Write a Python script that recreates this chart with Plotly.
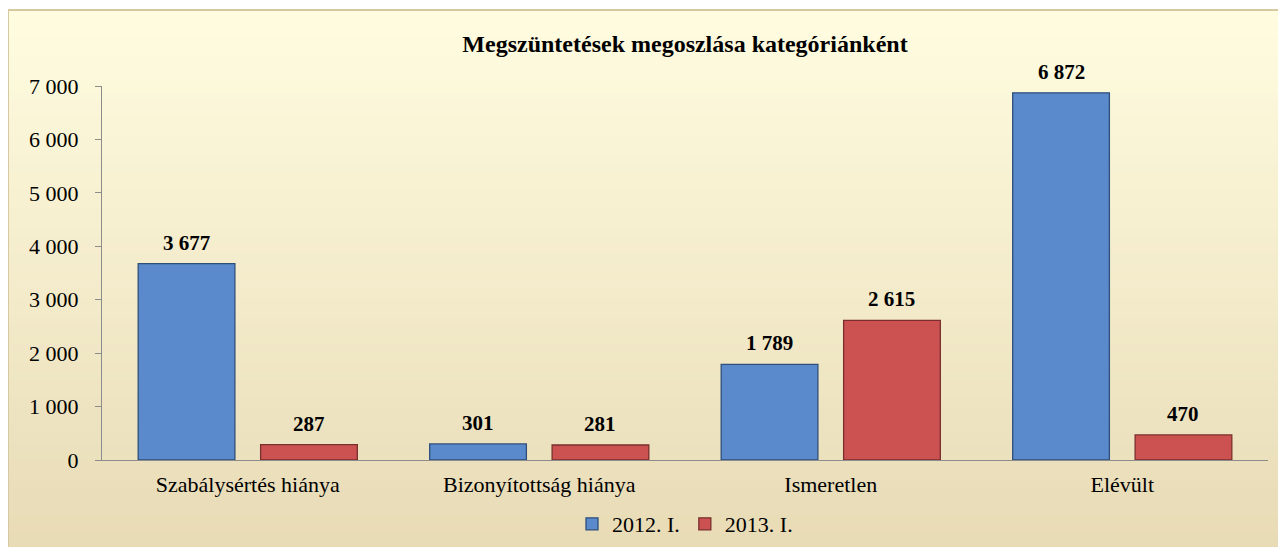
import plotly.graph_objects as go

categories = ["Szabálysértés hiánya", "Bizonyítottság hiánya", "Ismeretlen", "Elévült"]
series_names = ["2012. I.", "2013. I."]
values_2012 = [3677, 301, 1789, 6872]
values_2013 = [287, 281, 2615, 470]
y_tickvals = [0, 1000, 2000, 3000, 4000, 5000, 6000, 7000]
y_ticktext = ["0", "1 000", "2 000", "3 000", "4 000", "5 000", "6 000", "7 000"]
title_text = "Megszüntetések megoszlása kategóriánként"

# page body has an 8px margin; work in screen coords and convert
OFF = 8
W, H = 1286 - 2 * OFF, 555 - 2 * OFF
ML = 102 - OFF
MR = W - (1268 - OFF)
MT = 86 - OFF
MB = H - (460 - OFF)
PW, PH = W - ML - MR, H - MT - MB


def px(X):
    return (X - OFF - ML) / PW


def py(Y):
    return (H - MB - (Y - OFF)) / PH


FONT = "Liberation Serif"
FS = 22
FS_LABEL = 21

fig = go.Figure()
fig.add_trace(go.Bar(
    x=categories, y=values_2012, name=series_names[0],
    marker=dict(color="#5A8ACB", line=dict(color="#2E4F7A", width=1.3)),
))
fig.add_trace(go.Bar(
    x=categories, y=values_2013, name=series_names[1],
    marker=dict(color="#CB5251", line=dict(color="#7A2E2D", width=1.3)),
))

annotations = []
for vals, xs in ((values_2012, -61), (values_2013, 61)):
    for c, v in zip(categories, vals):
        annotations.append(dict(
            x=c, y=v, xref="x", yref="y", text="<b>" + format(v, ",d").replace(",", " ") + "</b>",
            showarrow=False, yanchor="bottom", xshift=xs, yshift=7,
            font=dict(family=FONT, size=FS_LABEL, color="#000000"),
        ))

# background gradient frame
shapes = []
x0, x1 = px(8), px(1283)
top, bot = 10, 551
n = 60
c_top = (255, 252, 224)
c_bot = (232, 219, 182)
for i in range(n):
    t = i / (n - 1)
    c = tuple(int(round(c_top[k] + (c_bot[k] - c_top[k]) * t)) for k in range(3))
    ya = top + (bot - top) * i / n
    yb = top + (bot - top) * (i + 1) / n
    shapes.append(dict(type="rect", xref="paper", yref="paper", layer="below",
                       x0=x0, x1=x1, y0=py(yb) - 0.002, y1=py(ya),
                       fillcolor="rgb(%d,%d,%d)" % c, line=dict(width=0)))
shapes.append(dict(type="rect", xref="paper", yref="paper", layer="below",
                   x0=x0, x1=x1, y0=py(bot), y1=py(top),
                   fillcolor="rgba(0,0,0,0)", line=dict(color="#D6C9A2", width=2)))

fig.update_layout(
    width=W, height=H,
    margin=dict(l=ML, r=MR, t=MT, b=MB, autoexpand=False),
    paper_bgcolor="#FFFFFF", plot_bgcolor="rgba(0,0,0,0)",
    shapes=shapes, annotations=annotations,
    barmode="group", bargap=0.16, bargroupgap=0.21,
    title=dict(text="<b>" + title_text + "</b>", x=0.5, xref="paper", xanchor="center",
               y=1 - (44 - OFF) / H, yanchor="middle",
               font=dict(family=FONT, size=24, color="#000000")),
    font=dict(family=FONT, size=FS, color="#000000"),
    xaxis=dict(showline=True, linecolor="#8C8C8C", linewidth=1, ticks="outside", ticklen=5,
               tickcolor="rgba(0,0,0,0)", showgrid=False,
               tickfont=dict(family=FONT, size=FS, color="#000000")),
    yaxis=dict(range=[0, 7000], tickvals=y_tickvals, ticktext=y_ticktext,
               showline=True, linecolor="#8C8C8C", linewidth=1, ticks="outside", ticklen=6,
               tickcolor="#8C8C8C", showgrid=False, zeroline=False, ticklabelstandoff=12,
               tickfont=dict(family=FONT, size=FS, color="#000000")),
    legend=dict(orientation="h", x=0.5, xanchor="center", y=py(524), yanchor="middle",
                bgcolor="rgba(0,0,0,0)", font=dict(family=FONT, size=FS, color="#000000"),
                itemwidth=30, tracegroupgap=0),
    showlegend=True,
)

fig.write_html("out.html")
